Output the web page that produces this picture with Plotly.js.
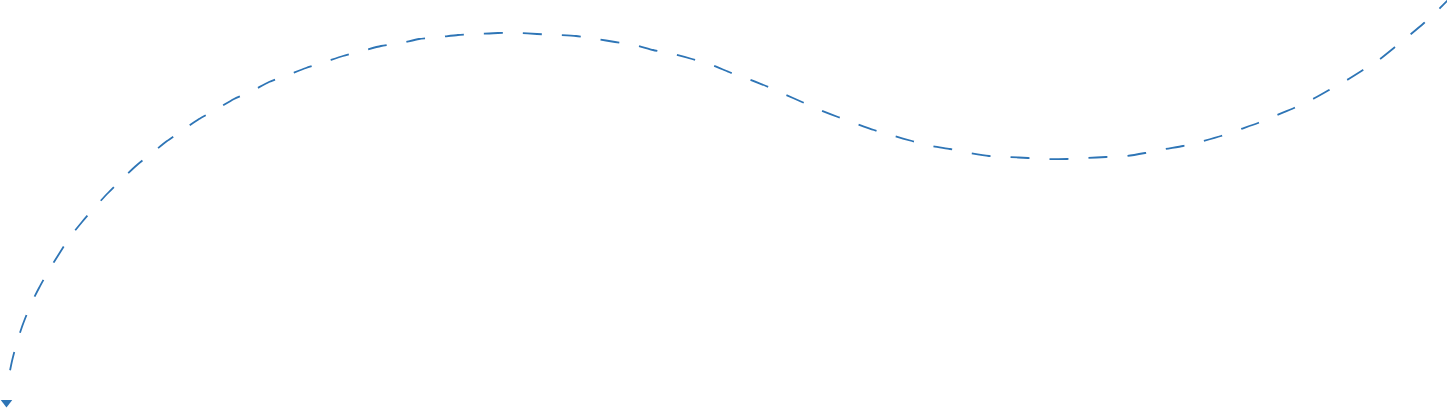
<!DOCTYPE html>
<html><head><meta charset="utf-8">
<script src="https://cdn.plot.ly/plotly-3.0.1.min.js"></script>
<style>html,body{margin:0;padding:0;background:#fff;}#chart{width:1447px;height:410px;}</style>
</head><body><div id="chart"></div>
<script>
const pathX = [1453, 1439, 1424, 1411, 1395, 1380, 1363, 1347, 1329, 1313, 1294, 1277, 1258, 1241, 1221, 1203, 1183, 1165, 1145, 1127, 1106, 1087, 1067, 1048, 1028, 1009, 989, 970, 950, 932, 912, 894, 874, 857, 838, 820, 802, 784, 766, 748, 729, 712, 692, 673, 653, 635, 615, 597, 576, 558, 537, 518, 498, 479, 458, 440, 419, 401, 381, 362, 343, 325, 306, 288, 269, 252, 234, 217, 199, 183, 167, 152, 137, 122, 108, 95, 82, 70, 59, 49, 39, 31, 23, 17, 12, 8];
const pathY = [-5, 9, 23, 34, 47, 59, 70, 80, 90, 99, 108, 115, 123, 129, 136, 141, 146, 149, 153, 156, 157, 158, 159, 159, 158, 157, 156, 153, 149, 146, 141, 136, 130, 124, 117, 110, 102, 94, 86, 79, 72, 65, 59, 54, 50, 45, 42, 39, 36, 35, 34, 33, 33, 34, 35, 37, 39, 43, 46, 51, 56, 62, 68, 75, 82, 91, 99, 109, 119, 130, 141, 153, 165, 179, 193, 207, 222, 237, 254, 270, 288, 304, 324, 342, 361, 381];
const arrowX = [6.5];
const arrowY = [402.5];
const lineColor = '#2e75b6';

Plotly.newPlot('chart', [
  {x: pathX, y: pathY, mode: 'lines', line: {shape: 'spline', smoothing: 0.6, color: lineColor, width: 1.8, dash: '19px,20px'}, hoverinfo: 'skip'},
  {x: arrowX, y: arrowY, mode: 'markers', marker: {symbol: 'triangle-down', size: 10, color: lineColor}, hoverinfo: 'skip'}
], {
  width: 1447, height: 410,
  margin: {l: 0, r: 0, t: 0, b: 0},
  showlegend: false,
  paper_bgcolor: '#fff', plot_bgcolor: '#fff',
  xaxis: {range: [0, 1447], visible: false, fixedrange: true},
  yaxis: {range: [410, 0], visible: false, fixedrange: true}
}, {staticPlot: true});
</script></body></html>
